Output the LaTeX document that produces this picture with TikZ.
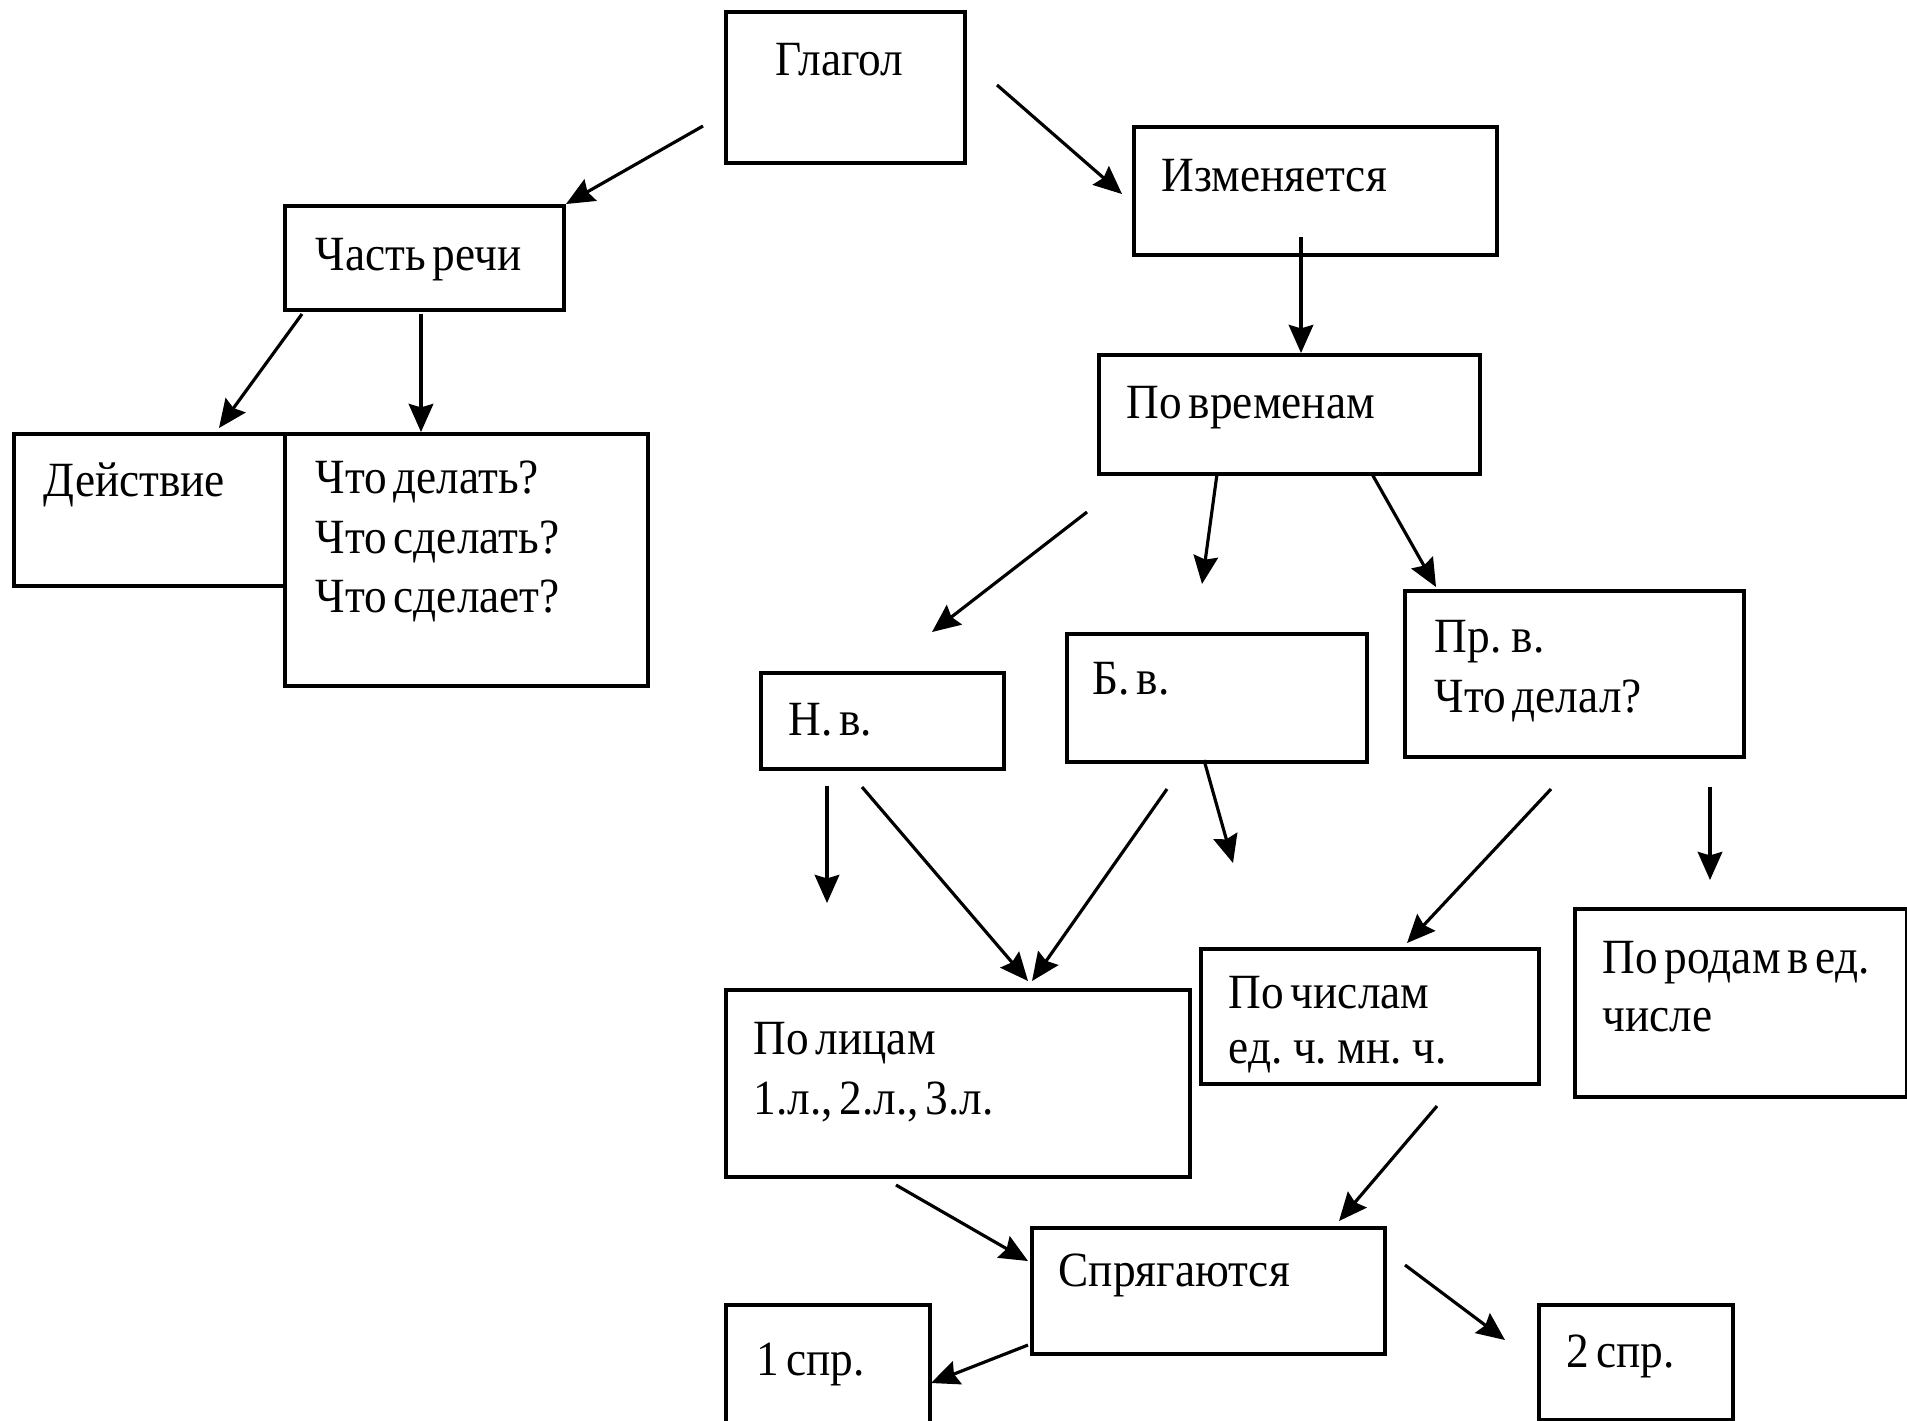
\documentclass[tikz,border=0pt]{standalone}
\usepackage{fontspec}
\setmainfont{Liberation Serif}[FakeStretch=0.92,WordSpace=0.6]
\usetikzlibrary{arrows.meta}
\tikzset{
  box/.style={draw, line width=1.1pt, anchor=north west, inner sep=0pt},
  txt/.style={anchor=base west, inner sep=0pt, font=\fontsize{14}{17}\selectfont},
  arr/.style={-{Stealth[length=8pt,width=7pt,inset=1pt]}, line width=0.9pt}
}
\begin{document}
\begin{tikzpicture}[x=0.01cm,y=-0.01cm]
\useasboundingbox (0,0) rectangle (1907,1420);

% boxes
\node[box, minimum width=2.39cm, minimum height=1.51cm] (glagol) at (724,10) {};
\node[box, minimum width=2.79cm, minimum height=1.04cm] (chast) at (283,204) {};
\node[box, minimum width=2.71cm, minimum height=1.52cm] (deistvie) at (12,432) {};
\node[box, minimum width=3.63cm, minimum height=2.52cm] (chto) at (283,432) {};
\node[box, minimum width=3.63cm, minimum height=1.28cm] (izm) at (1132,125) {};
\node[box, minimum width=3.81cm, minimum height=1.19cm] (vrem) at (1097,353) {};
\node[box, minimum width=2.43cm, minimum height=0.96cm] (nv) at (759,671) {};
\node[box, minimum width=3.00cm, minimum height=1.28cm] (bv) at (1065,632) {};
\node[box, minimum width=3.39cm, minimum height=1.66cm] (prv) at (1403,589) {};
\node[box, minimum width=4.64cm, minimum height=1.87cm] (lica) at (724,988) {};
\node[box, minimum width=3.38cm, minimum height=1.35cm] (chisla) at (1199,947) {};
\node[box, minimum width=3.32cm, minimum height=1.88cm] (roda) at (1573,907) {};
\node[box, minimum width=3.53cm, minimum height=1.26cm] (spr) at (1030,1226) {};
\node[box, minimum width=2.04cm, minimum height=1.21cm] (spr1) at (724,1303) {};
\node[box, minimum width=1.94cm, minimum height=1.15cm] (spr2) at (1537,1303) {};

% texts
\node[txt] (tglagol) at (775,75) {Глагол};
\node[txt] (tchast) at (315,270) {Часть речи};
\node[txt] (tdeistvie) at (43,496) {Действие};
\node[txt] (tchto1) at (315,493) {Что делать?};
\node[txt] (tchto2) at (315,553) {Что сделать?};
\node[txt] (tchto3) at (315,612) {Что сделает?};
\node[txt] (tizm) at (1161,191) {Изменяется};
\node[txt] (tvrem) at (1126,418) {По временам};
\node[txt] (tnv) at (788,735) {Н. в.};
\node[txt] (tbv) at (1092,694) {Б. в.};
\node[txt] (tprv1) at (1434,652) {Пр. в.};
\node[txt] (tprv2) at (1434,712) {Что делал?};
\node[txt] (tlica1) at (753,1054) {По лицам};
\node[txt] (tlica2) at (753,1114) {1.л., 2.л., 3.л.};
\node[txt] (tchisla1) at (1228,1008) {По числам};
\node[txt] (tchisla2) at (1228,1063) {ед. ч. мн. ч.};
\node[txt] (troda1) at (1602,973) {По родам в ед.};
\node[txt] (troda2) at (1602,1031) {числе};
\node[txt] (tspr) at (1058,1286) {Спрягаются};
\node[txt] (tspr1) at (756,1375) {1 спр.};
\node[txt] (tspr2) at (1566,1367) {2 спр.};

% free arrow ends
\coordinate (g1) at (703,126);
\coordinate (g2) at (997,85);
\coordinate (g2e) at (1122,194);
\coordinate (i1) at (1301,237);
\coordinate (c1) at (302,314);
\coordinate (c1e) at (219,428);
\coordinate (c2) at (421,314);
\coordinate (v1) at (1087,512);
\coordinate (v1e) at (932,632);
\coordinate (v2) at (1217,474);
\coordinate (v2e) at (1202,584);
\coordinate (v3) at (1372,474);
\coordinate (v3e) at (1436,587);
\coordinate (n1) at (827,786);
\coordinate (n1e) at (827,903);
\coordinate (n2) at (862,787);
\coordinate (n2e) at (1028,981);
\coordinate (b1) at (1167,789);
\coordinate (b1e) at (1032,981);
\coordinate (b2) at (1204,760);
\coordinate (b2e) at (1233,863);
\coordinate (p1) at (1551,789);
\coordinate (p1e) at (1407,943);
\coordinate (p2) at (1710,787);
\coordinate (p2e) at (1710,880);
\coordinate (ch1) at (1437,1106);
\coordinate (ch1e) at (1339,1221);
\coordinate (l1) at (896,1185);
\coordinate (l1e) at (1028,1261);
\coordinate (s1) at (1028,1345);
\coordinate (s1e) at (931,1383);
\coordinate (s2) at (1405,1265);
\coordinate (s2e) at (1505,1340);

% arrows
\draw[arr] (g1) -- (chast.north east);
\draw[arr] (g2) -- (g2e);
\draw[arr] (i1) -- (i1 |- vrem.north);
\draw[arr] (c1) -- (c1e);
\draw[arr] (c2) -- (c2 |- chto.north);
\draw[arr] (v1) -- (v1e);
\draw[arr] (v2) -- (v2e);
\draw[arr] (v3) -- (v3e);
\draw[arr] (n1) -- (n1e);
\draw[arr] (n2) -- (n2e);
\draw[arr] (b1) -- (b1e);
\draw[arr] (b2) -- (b2e);
\draw[arr] (p1) -- (p1e);
\draw[arr] (p2) -- (p2e);
\draw[arr] (ch1) -- (ch1e);
\draw[arr] (l1) -- (l1e);
\draw[arr] (s1) -- (s1e);
\draw[arr] (s2) -- (s2e);
\end{tikzpicture}
\end{document}
